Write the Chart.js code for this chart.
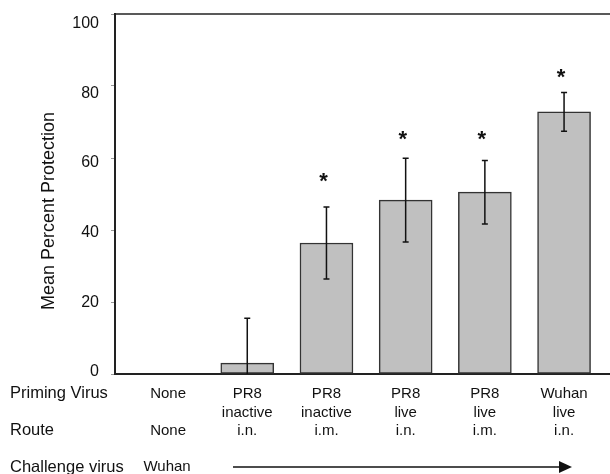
<!DOCTYPE html>
<html>
<head>
<meta charset="utf-8">
<script src="https://cdn.jsdelivr.net/npm/chart.js@4"></script>
<style>
  html, body { margin: 0; padding: 0; background: #fff; }
  #wrap { width: 610px; height: 474px; }
</style>
</head>
<body>
<div id="wrap"><canvas id="c"></canvas></div>
<script>
const primingVirus = ["None", "PR8", "PR8", "PR8", "PR8", "Wuhan"];
const primingState = ["", "inactive", "inactive", "live", "live", "live"];
const routes = ["None", "i.n.", "i.m.", "i.n.", "i.m.", "i.n."];
const protection = [0, 3, 36.4, 48.3, 50.5, 72.8];
const errors = [0, 12.5, 10, 11.6, 8.8, 5.4];
const stars = [null, null, 54.4, 65.9, 65.9, 83.3];
const yTicks = [0, 20, 40, 60, 80, 100];

const FONT = "'Liberation Sans', Arial, sans-serif";

// error bars, stars, row labels and the challenge arrow
const extras = {
  id: "extras",
  afterDatasetsDraw(chart) {
    const { ctx, chartArea, scales: { x, y } } = chart;
    ctx.save();

    // top frame line
    ctx.strokeStyle = "#222";
    ctx.lineWidth = 1.5;
    ctx.beginPath();
    ctx.moveTo(chartArea.left, chartArea.top);
    ctx.lineTo(chartArea.right, chartArea.top);
    ctx.stroke();

    // y tick labels (the original sits them slightly off the tick marks)
    ctx.fillStyle = "#111";
    ctx.font = "16px " + FONT;
    ctx.textAlign = "right";
    ctx.textBaseline = "middle";
    yTicks.forEach(v => {
      ctx.fillText(String(v), 99, y.getPixelForValue(v * 0.968) - 2);
    });

    // error bars
    ctx.lineWidth = 1.5;
    ctx.strokeStyle = "#111";
    protection.forEach((v, i) => {
      const e = errors[i];
      if (!e) return;
      const cx = x.getPixelForValue(i);
      const hi = y.getPixelForValue(v + e);
      const loVal = Math.max(0, v - e);
      const lo = y.getPixelForValue(loVal);
      ctx.beginPath();
      ctx.moveTo(cx, hi);
      ctx.lineTo(cx, lo);
      ctx.moveTo(cx - 3, hi);
      ctx.lineTo(cx + 3, hi);
      if (loVal > 0) {
        ctx.moveTo(cx - 3, lo);
        ctx.lineTo(cx + 3, lo);
      }
      ctx.stroke();
    });

    // significance stars
    ctx.font = "bold 22px " + FONT;
    ctx.textAlign = "center";
    ctx.textBaseline = "alphabetic";
    stars.forEach((s, i) => {
      if (s == null) return;
      ctx.fillText("*", x.getPixelForValue(i) - 3, y.getPixelForValue(s) + 9.5);
    });

    // y axis title
    ctx.font = "18px " + FONT;
    ctx.textBaseline = "middle";
    ctx.save();
    ctx.translate(49, 211);
    ctx.rotate(-Math.PI / 2);
    ctx.fillText("Mean Percent Protection", 0, 0);
    ctx.restore();

    // row labels
    ctx.font = "16.5px " + FONT;
    ctx.textAlign = "left";
    ctx.fillText("Priming Virus", 10, 393);
    ctx.fillText("Route", 10, 430);
    ctx.fillText("Challenge virus", 10, 467);
    ctx.font = "15px " + FONT;
    ctx.textAlign = "center";
    ctx.fillText("Wuhan", x.getPixelForValue(0) - 1, 467);

    // arrow
    const ax0 = x.getPixelForValue(0.82);
    const ax1 = x.getPixelForValue(5.1);
    ctx.lineWidth = 1.3;
    ctx.beginPath();
    ctx.moveTo(ax0, 467);
    ctx.lineTo(ax1 - 10, 467);
    ctx.stroke();
    ctx.beginPath();
    ctx.moveTo(ax1, 467);
    ctx.lineTo(ax1 - 13, 461);
    ctx.lineTo(ax1 - 13, 473);
    ctx.closePath();
    ctx.fill();

    ctx.restore();
  }
};

new Chart(document.getElementById("c"), {
  type: "bar",
  data: {
    datasets: [{
      data: protection.map((v, i) => ({ x: i, y: v })),
      backgroundColor: "#c0c0c0",
      borderColor: "#333",
      borderWidth: 1.5,
      borderSkipped: false,
      barThickness: 53
    }]
  },
  options: {
    responsive: true,
    maintainAspectRatio: false,
    animation: false,
    layout: { padding: { top: 14, right: 0, left: 0, bottom: 0 } },
    plugins: { legend: { display: false }, tooltip: { enabled: false } },
    scales: {
      x: {
        type: "linear",
        min: -0.67,
        max: 5.58,
        offset: false,
        grid: { display: false, drawTicks: false },
        border: { display: true, color: "#222", width: 2 },
        afterBuildTicks: s => { s.ticks = primingVirus.map((_, i) => ({ value: i })); },
        afterFit: s => { s.height = 100; s.paddingLeft = 0; s.paddingRight = 0; },
        ticks: {
          autoSkip: false,
          maxRotation: 0,
          padding: 11,
          color: "#111",
          font: { family: FONT, size: 15, lineHeight: 1.23 },
          callback: v => [primingVirus[v], primingState[v], routes[v]]
        }
      },
      y: {
        min: 0,
        max: 100,
        afterBuildTicks: s => { s.ticks = yTicks.map(v => ({ value: v })); },
        afterFit: s => { s.width = 115; s.paddingTop = 0; s.paddingBottom = 0; },
        grid: { drawOnChartArea: false, drawTicks: true, tickLength: 4, color: "#999" },
        border: { display: true, color: "#222", width: 2 },
        ticks: { display: false }
      }
    }
  },
  plugins: [extras]
});
</script>
</body>
</html>
